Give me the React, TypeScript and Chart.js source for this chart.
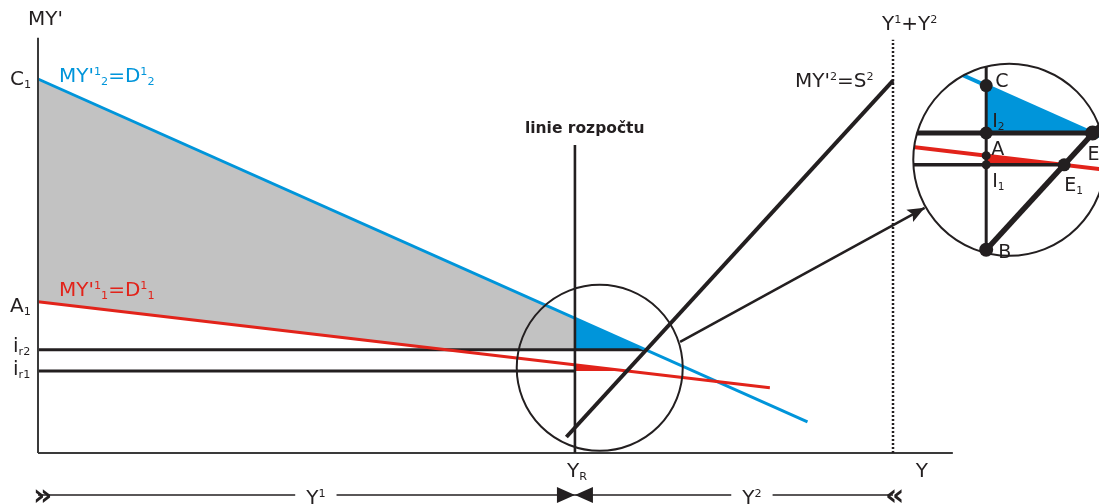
import { useEffect, useRef } from 'react';
import { Chart, registerables } from 'chart.js';

Chart.register(...registerables);

const W = 1099;
const H = 504;

// ---------- values (x: income, y: MY') ----------
const C1 = 93.5;      // intercept C1 of MY'^1_2 = D^1_2
const A1 = 37.8;      // intercept A1 of MY'^1_1 = D^1_1
const IR2 = 25.8;     // i_r2
const IR1 = 20.5;     // i_r1
const YR = 62.8;      // budget line Y_R
const Y_SUM = 100;    // Y^1 + Y^2

const D2_LINE = [{ x: 0, y: C1 }, { x: 90, y: 7.8 }];          // MY'^1_2 = D^1_2
const D1_LINE = [{ x: 0, y: A1 }, { x: 85.6, y: 16.3 }];       // MY'^1_1 = D^1_1
const S2_LINE = [{ x: 61.8, y: 4.0 }, { x: Y_SUM, y: 93.1 }];  // MY'^2 = S^2

const AXIS_X_END = 107;
const AXIS_Y_TOP = 103.8;
const BUDGET_TOP = 77;
const SUM_TOP = 103.3;

const Y_TICK_LABELS = ['C_{1}', 'A_{1}', 'i_{r2}', 'i_{r1}'];
const X_TICK_LABELS = ['Y_{R}', 'Y'];
const SPAN_LABELS = ['Y^{1}', 'Y^{2}'];
const SPAN_LABEL_X = [32.5, 83.5];
const INSET_LABELS = ['C', 'I_{2}', 'A', 'I_{1}', 'B', 'E', 'E_{1}'];

// ---------- layout ----------
const X_RANGE = { min: -4.444, max: 124.094 };
const Y_RANGE = { min: -12.75, max: 113.25 };
const ZOOM = { fromX: YR, fromY: IR2, toX: 110.9, toY: 80, k: 1.5 };
const MAIN_CIRCLE = { x: 65.7, y: 21.3, r: 83 };
const INSET_CIRCLE = { x: 113.6, y: 73.3, r: 96 };
const POINTER = [{ x: 75.1, y: 27.8 }, { x: 103.7, y: 61.3 }];
const SPAN_Y = -10.5;

const BLACK = '#231f20';
const BLUE = '#0095da';
const RED = '#e2231a';
const GRAY = '#c2c2c2';
const AXIS = '#3a3a3a';
const FONT = '"DejaVu Sans", Verdana, sans-serif';

type P = { x: number; y: number };
const yAt = (l: P[], x: number) => l[0].y + ((l[1].y - l[0].y) * (x - l[0].x)) / (l[1].x - l[0].x);
const xAt = (l: P[], y: number) => l[0].x + ((l[1].x - l[0].x) * (y - l[0].y)) / (l[1].y - l[0].y);
const z = (p: P): P => ({ x: ZOOM.toX + ZOOM.k * (p.x - ZOOM.fromX), y: ZOOM.toY + ZOOM.k * (p.y - ZOOM.fromY) });

const yC = yAt(D2_LINE, YR);
const yA = yAt(D1_LINE, YR);
const yB = yAt(S2_LINE, YR);
const xE = xAt(D2_LINE, IR2);
const xE1 = xAt(D1_LINE, IR1);
const xG = xAt(D1_LINE, IR2);

const INSET_POINTS: P[] = [
  z({ x: YR, y: yC }),
  z({ x: YR, y: IR2 }),
  z({ x: YR, y: yA }),
  z({ x: YR, y: IR1 }),
  z({ x: YR, y: yB }),
  z({ x: xE, y: IR2 }),
  z({ x: xE1, y: IR1 }),
];
const INSET_RADII = [6.5, 6.5, 4.5, 4.5, 7, 7.5, 6.5];
const INSET_OFFSETS = [[9, 1], [6, -6], [5, -1], [6, 22], [12, 8], [-5, 27], [0, 26]];

type Lbl = { text: string; at: P; dx: number; dy: number; size?: number; color?: string; bold?: boolean; align?: 'left' | 'center'; bg?: boolean };

const LABELS: Lbl[] = [
  { text: "MY'", at: { x: 0, y: AXIS_Y_TOP }, dx: -10, dy: -13 },
  { text: Y_TICK_LABELS[0], at: { x: 0, y: C1 }, dx: -28, dy: 6 },
  { text: Y_TICK_LABELS[1], at: { x: 0, y: A1 }, dx: -28, dy: 10 },
  { text: Y_TICK_LABELS[2], at: { x: 0, y: IR2 }, dx: -25, dy: 2 },
  { text: Y_TICK_LABELS[3], at: { x: 0, y: IR1 }, dx: -25, dy: 4 },
  { text: "MY'^{1}_{2}=D^{1}_{2}", at: { x: 0, y: C1 }, dx: 21, dy: 3, color: BLUE },
  { text: "MY'^{1}_{1}=D^{1}_{1}", at: { x: 0, y: A1 }, dx: 21, dy: -6, color: RED },
  { text: 'linie rozpočtu', at: { x: YR, y: BUDGET_TOP }, dx: -50, dy: -12, size: 15.5, bold: true },
  { text: "MY'^{2}=S^{2}", at: S2_LINE[1], dx: -98, dy: 6 },
  { text: 'Y^{1}+Y^{2}', at: { x: Y_SUM, y: SUM_TOP }, dx: -11, dy: -10 },
  { text: X_TICK_LABELS[0], at: { x: YR, y: 0 }, dx: -8, dy: 24 },
  { text: X_TICK_LABELS[1], at: { x: AXIS_X_END, y: 0 }, dx: -37, dy: 24 },
  { text: SPAN_LABELS[0], at: { x: SPAN_LABEL_X[0], y: SPAN_Y }, dx: 0, dy: 9, align: 'center', bg: true },
  { text: SPAN_LABELS[1], at: { x: SPAN_LABEL_X[1], y: SPAN_Y }, dx: 0, dy: 9, align: 'center', bg: true },
  { text: '»', at: { x: 0, y: SPAN_Y }, dx: -5, dy: 10, bold: true, size: 30 },
  { text: '«', at: { x: Y_SUM, y: SPAN_Y }, dx: -8, dy: 10, bold: true, size: 30 },
  ...INSET_LABELS.map((t, i) => ({ text: t, at: INSET_POINTS[i], dx: INSET_OFFSETS[i][0], dy: INSET_OFFSETS[i][1], size: 19 })),
];

function parseRich(s: string) {
  const out: { text: string; kind: string }[] = [];
  let buf = '';
  let i = 0;
  while (i < s.length) {
    const ch = s[i];
    if ((ch === '^' || ch === '_') && s[i + 1] === '{') {
      if (buf) { out.push({ text: buf, kind: 'n' }); buf = ''; }
      const end = s.indexOf('}', i + 2);
      out.push({ text: s.slice(i + 2, end), kind: ch === '^' ? 'sup' : 'sub' });
      i = end + 1;
    } else { buf += ch; i++; }
  }
  if (buf) out.push({ text: buf, kind: 'n' });
  return out;
}

function drawRich(ctx: CanvasRenderingContext2D, l: Lbl, x: number, y: number) {
  const size = l.size ?? 20;
  const small = size * 0.56;
  const f = (s: number) => `${l.bold ? 'bold ' : ''}${s}px ${FONT}`;
  const segs = parseRich(l.text);
  let total = 0;
  const ws = segs.map((s) => { ctx.font = f(s.kind === 'n' ? size : small); const w = ctx.measureText(s.text).width; total += w; return w; });
  let cx = l.align === 'center' ? x - total / 2 : x;
  if (l.bg) {
    ctx.fillStyle = '#ffffff';
    ctx.fillRect(cx - 11, y - size * 0.95, total + 22, size * 1.1);
  }
  ctx.fillStyle = l.color ?? BLACK;
  ctx.textBaseline = 'alphabetic';
  ctx.textAlign = 'left';
  segs.forEach((s, i) => {
    ctx.font = f(s.kind === 'n' ? size : small);
    const yy = s.kind === 'sup' ? y - size * 0.34 : s.kind === 'sub' ? y + size * 0.16 : y;
    ctx.fillText(s.text, cx, yy);
    cx += ws[i];
  });
}

const px = (chart: any, p: P) => ({ x: chart.scales.x.getPixelForValue(p.x), y: chart.scales.y.getPixelForValue(p.y) });

const clipPlugin = {
  id: 'insetClip',
  beforeDatasetDraw(chart: any, args: any) {
    const ds = chart.data.datasets[args.index];
    if (!ds.clipInset) return;
    const c = px(chart, INSET_CIRCLE);
    const ctx = chart.ctx;
    ctx.save();
    ctx.beginPath();
    ctx.arc(c.x, c.y, INSET_CIRCLE.r, 0, Math.PI * 2);
    ctx.clip();
  },
  afterDatasetDraw(chart: any, args: any) {
    const ds = chart.data.datasets[args.index];
    if (ds.clipInset) chart.ctx.restore();
    if (ds.arrowHead) {
      const pts = args.meta.data;
      const a = pts[pts.length - 2];
      const b = pts[pts.length - 1];
      const ang = Math.atan2(b.y - a.y, b.x - a.x);
      const { length: L, width: Wd, notch } = ds.arrowHead;
      const c = Math.cos(ang), s = Math.sin(ang);
      const ctx = chart.ctx;
      ctx.save();
      ctx.fillStyle = ds.borderColor;
      ctx.beginPath();
      ctx.moveTo(b.x, b.y);
      ctx.lineTo(b.x - L * c + Wd * s, b.y - L * s - Wd * c);
      ctx.lineTo(b.x - L * notch * c, b.y - L * notch * s);
      ctx.lineTo(b.x - L * c - Wd * s, b.y - L * s + Wd * c);
      ctx.closePath();
      ctx.fill();
      ctx.restore();
    }
  },
};

const labelPlugin = {
  id: 'richLabels',
  afterDatasetsDraw(chart: any) {
    const ctx = chart.ctx;
    ctx.save();
    LABELS.forEach((l) => {
      const p = px(chart, l.at);
      drawRich(ctx, l, p.x + l.dx, p.y + l.dy);
    });
    ctx.restore();
  },
};

function line(data: P[], color: string, width: number, extra: any = {}) {
  return { data, showLine: true, borderColor: color, backgroundColor: color, borderWidth: width, pointRadius: 0, pointHoverRadius: 0, fill: false, tension: 0, borderCapStyle: 'butt', ...extra };
}
function area(data: P[], color: string, fill: any) {
  return { data, showLine: true, borderColor: 'rgba(0,0,0,0)', borderWidth: 0, backgroundColor: color, pointRadius: 0, pointHoverRadius: 0, fill, tension: 0 };
}
function ring(c: { x: number; y: number; r: number }, width: number) {
  return { data: [{ x: c.x, y: c.y }], showLine: false, pointRadius: c.r, pointHoverRadius: c.r, pointBorderWidth: width, pointBorderColor: BLACK, pointBackgroundColor: 'rgba(0,0,0,0)', borderColor: BLACK, backgroundColor: 'rgba(0,0,0,0)', fill: false };
}

function buildDatasets() {
  const list: any[] = [];
  const lowerIdx = list.length;
  list.push(area([{ x: 0, y: A1 }, { x: xG, y: IR2 }, { x: YR, y: IR2 }], 'rgba(0,0,0,0)', false));
  list.push(area([{ x: 0, y: C1 }, { x: YR, y: yC }], GRAY, lowerIdx));
  list.push(area([{ x: YR, y: yC }, { x: xE, y: IR2 }], BLUE, { value: IR2 }));
  list.push(area([{ x: YR, y: yA }, { x: xE1, y: IR1 }], RED, { value: IR1 }));
  list.push(area([z({ x: YR, y: yC }), z({ x: xE, y: IR2 })], BLUE, { value: z({ x: 0, y: IR2 }).y }));
  list.push(area([z({ x: YR, y: yA }), z({ x: xE1, y: IR1 })], RED, { value: z({ x: 0, y: IR1 }).y }));
  // main lines
  list.push(line([{ x: 0, y: IR2 }, { x: xE, y: IR2 }], BLACK, 3));
  list.push(line([{ x: 0, y: IR1 }, { x: YR, y: IR1 }], BLACK, 3));
  list.push(line(D2_LINE, BLUE, 3));
  list.push(line(D1_LINE, RED, 3));
  list.push(line([{ x: 0, y: 0 }, { x: 0, y: AXIS_Y_TOP }], AXIS, 2));
  list.push(line([{ x: 0, y: 0 }, { x: AXIS_X_END, y: 0 }], AXIS, 2));
  list.push(line([{ x: YR, y: 0 }, { x: YR, y: BUDGET_TOP }], BLACK, 2.6));
  list.push(line([{ x: Y_SUM, y: 0 }, { x: Y_SUM, y: SUM_TOP }], BLACK, 2.5, { borderDash: [2, 2] }));
  list.push(line(S2_LINE, BLACK, 4));
  list.push(ring(MAIN_CIRCLE, 2));
  list.push(line(POINTER, BLACK, 2.5, { arrowHead: { length: 17, width: 7, notch: 0.8 } }));
  list.push(line([{ x: 0, y: SPAN_Y }, { x: YR, y: SPAN_Y }], BLACK, 1.5, { arrowHead: { length: 18, width: 8, notch: 1 } }));
  list.push(line([{ x: Y_SUM, y: SPAN_Y }, { x: YR, y: SPAN_Y }], BLACK, 1.5, { arrowHead: { length: 18, width: 8, notch: 1 } }));
  // inset lines (magnified view, clipped to the inset circle)
  list.push(line(D2_LINE.map(z), BLUE, 4, { clipInset: true }));
  list.push(line(D1_LINE.map(z), RED, 4, { clipInset: true }));
  list.push(line([z({ x: 0, y: IR2 }), z({ x: xE, y: IR2 })], BLACK, 5, { clipInset: true }));
  list.push(line([z({ x: 0, y: IR1 }), z({ x: xE1, y: IR1 })], BLACK, 3.5, { clipInset: true }));
  list.push(line([z({ x: YR, y: yB }), z({ x: YR, y: BUDGET_TOP })], BLACK, 3, { clipInset: true }));
  list.push(line([z({ x: YR, y: yB }), z(S2_LINE[1])], BLACK, 5.5, { clipInset: true }));
  list.push(ring(INSET_CIRCLE, 2));
  list.push({ data: INSET_POINTS, showLine: false, pointRadius: INSET_RADII, pointHoverRadius: INSET_RADII, pointBackgroundColor: BLACK, pointBorderColor: BLACK, pointBorderWidth: 0, backgroundColor: BLACK, borderColor: BLACK, fill: false });
  const n = list.length;
  return list.map((d, i) => ({ ...d, order: n - i }));
}

export default function App() {
  const ref = useRef<HTMLCanvasElement>(null);
  useEffect(() => {
    const canvas = ref.current;
    if (!canvas) return;
    const chart = new Chart(canvas, {
      type: 'scatter',
      data: { datasets: buildDatasets() },
      options: {
        responsive: false,
        animation: false,
        devicePixelRatio: 1,
        events: [],
        layout: { padding: 0, autoPadding: false },
        plugins: { legend: { display: false }, tooltip: { enabled: false } },
        scales: {
          x: { type: 'linear', min: X_RANGE.min, max: X_RANGE.max, display: false },
          y: { type: 'linear', min: Y_RANGE.min, max: Y_RANGE.max, display: false },
        },
      },
      plugins: [clipPlugin, labelPlugin],
    } as any);
    return () => chart.destroy();
  }, []);
  return (
    <div style={{ position: 'absolute', left: 0, top: 0, width: W, height: H, background: '#ffffff', overflow: 'hidden' }}>
      <canvas ref={ref} width={W} height={H} style={{ display: 'block', width: W, height: H }} />
    </div>
  );
}
